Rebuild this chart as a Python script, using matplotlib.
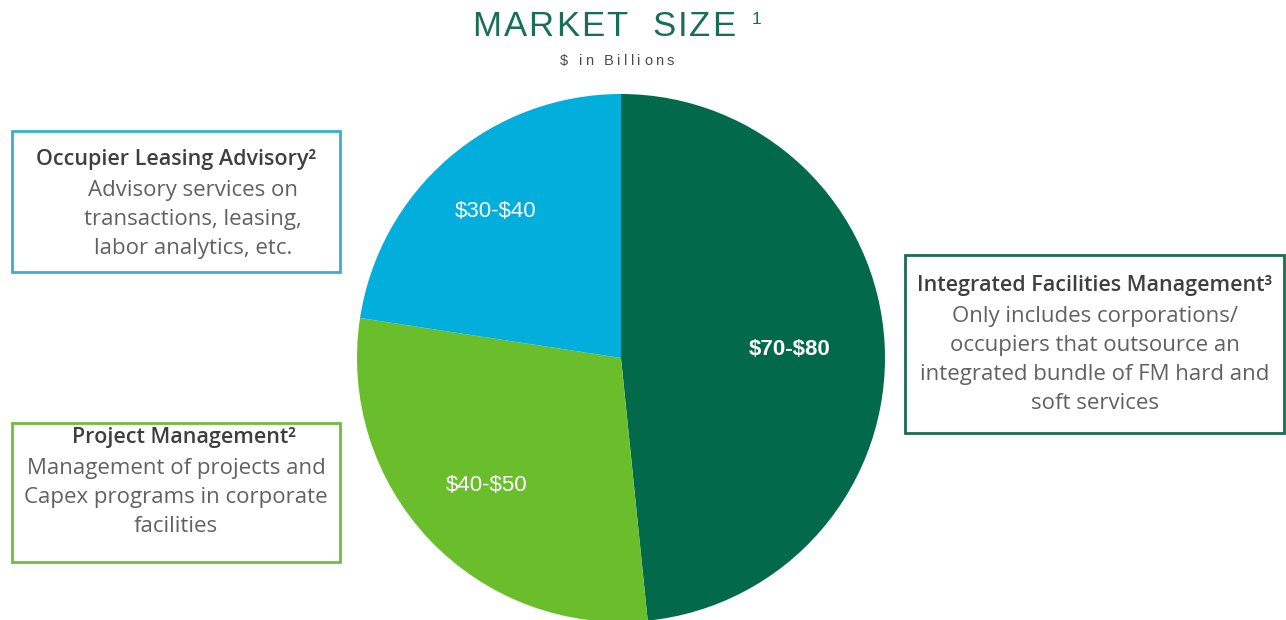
import matplotlib.pyplot as plt
from matplotlib.patches import Rectangle
import numpy as np

# market size ranges ($ billions), pie uses the midpoint of each range
segments = ["Integrated Facilities Management", "Project Management", "Occupier Leasing Advisory"]
low = [70, 40, 30]
high = [80, 50, 40]
range_labels = ["$70-$80", "$40-$50", "$30-$40"]
colors = ["#026A4B", "#6BBE2B", "#02AEDB"]

box_titles = ["Integrated Facilities Management\u00b3", "Project Management\u00b2", "Occupier Leasing Advisory\u00b2"]
box_texts = [
    "Only includes corporations/\noccupiers that outsource an\nintegrated bundle of FM hard and\nsoft services",
    "Management of projects and\nCapex programs in corporate\nfacilities",
    "Advisory services on\ntransactions, leasing,\nlabor analytics, etc.",
]
box_edges = ["#1C6B4F", "#72BC3C", "#3AAED0"]

mid = (np.array(low) + np.array(high)) / 2

W, H = 1286, 620
fig = plt.figure(figsize=(W / 100, H / 100), dpi=100)
ax = fig.add_axes([0, 0, 1, 1])

wedges, _ = ax.pie(mid, colors=colors, startangle=90, counterclock=False,
                   center=(621, H - 358), radius=264, frame=True,
                   wedgeprops=dict(linewidth=0))
ax.set_xlim(0, W)
ax.set_ylim(0, H)
ax.set_aspect("equal")
ax.axis("off")

# value labels inside the wedges
label_r = [0.64, 0.70, 0.73]
for w, lab, fr in zip(wedges, range_labels, label_r):
    th = np.deg2rad((w.theta1 + w.theta2) / 2)
    cx, cy = w.center
    ax.text(cx + fr * w.r * np.cos(th), cy + fr * w.r * np.sin(th), lab,
            ha="center", va="center", color="white", fontsize=16, parse_math=False,
            family="Liberation Sans", fontweight="bold" if lab == "$70-$80" else "normal")

# description boxes: (x0, y0 top, x1, y1 bottom) in image pixels
boxes = [(905, 255, 1284, 433), (12, 423, 340, 562), (12, 131, 340, 272)]
title_x = [1095, 184, 176]
title_y = [286, 438, 160]
body_x = [1095, 176, 193]
for (x0, y0, x1, y1), ec, t, b, tx, ty, bx in zip(boxes, box_edges, box_titles, box_texts,
                                                   title_x, title_y, body_x):
    ax.add_patch(Rectangle((x0, H - y1), x1 - x0, y1 - y0, fill=False,
                           edgecolor=ec, linewidth=2))
    ax.text(tx, H - ty, t, ha="center", va="center", fontsize=15.5,
            family="Open Sans", fontweight="semibold", color="#3F3F3F")
    ax.text(bx, H - ty - 20, b, ha="center", va="top", fontsize=16,
            family="Open Sans", color="#616161", linespacing=1.49)


def spaced_text(xc, yc, s, track, **kw):
    # draw text one char at a time with extra letter spacing (pixels)
    r = fig.canvas.get_renderer()
    parts = [ax.text(0, yc, ch, ha="left", va="center", parse_math=False, **kw) for ch in s]
    widths = [p.get_window_extent(r).width for p in parts]
    total = sum(widths) + track * (len(s) - 1)
    x = xc - total / 2
    for p, wd in zip(parts, widths):
        p.set_x(x)
        x += wd + track
    return x


end_x = spaced_text(604, H - 26, "MARKET  SIZE", 2, fontsize=25,
                    family="Liberation Sans", color="#1A6E51")
ax.text(end_x + 14, H - 19, "1", ha="left", va="center", fontsize=12.5,
        family="Liberation Sans", color="#1A6E51")
spaced_text(617, H - 61, "$ in Billions", 3.3, fontsize=10.5,
            family="Liberation Sans", color="#4A4A4A")

fig.savefig("out.png", dpi=100)
